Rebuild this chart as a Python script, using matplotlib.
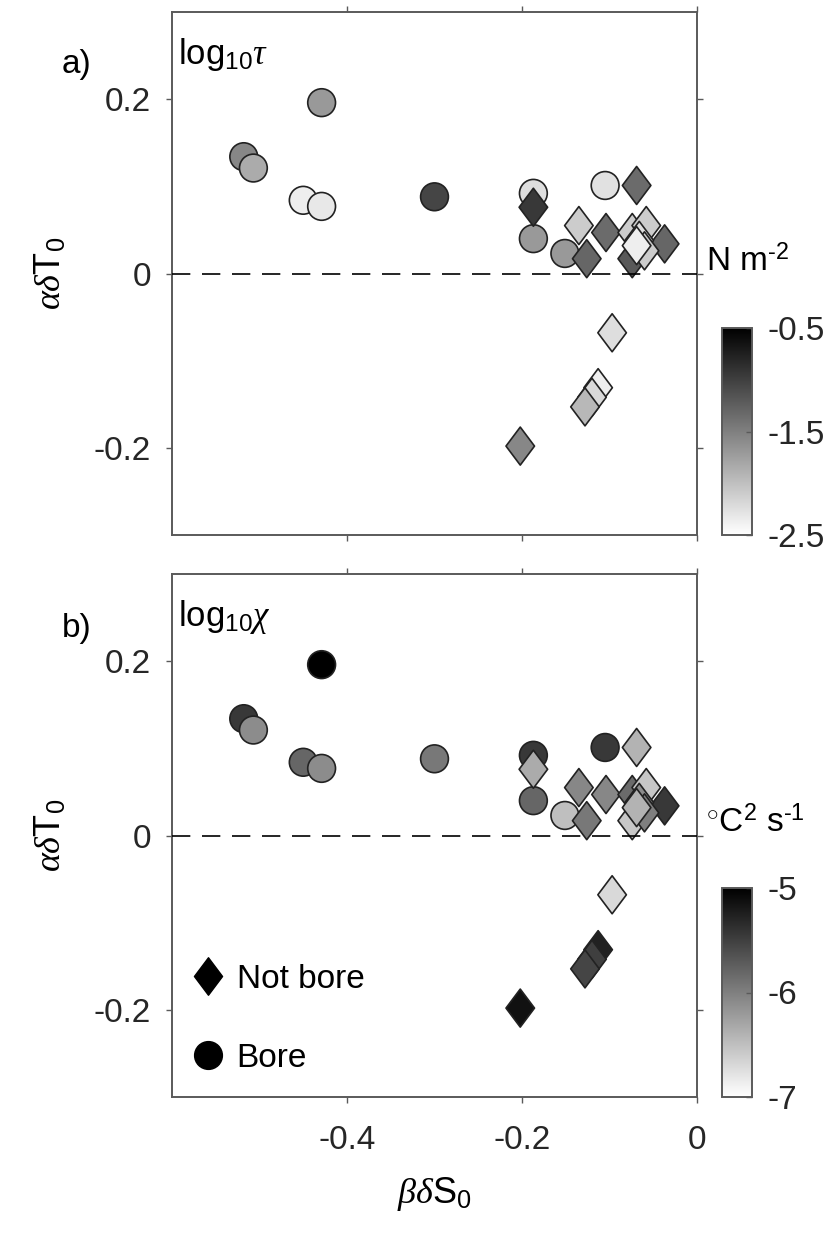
import matplotlib
matplotlib.use("Agg")
import matplotlib.pyplot as plt
from matplotlib.path import Path
from matplotlib.lines import Line2D

plt.rcParams["font.family"] = ["Liberation Sans", "DejaVu Sans"]
plt.rcParams["mathtext.fontset"] = "custom"
plt.rcParams["mathtext.rm"] = "Liberation Sans"
plt.rcParams["mathtext.it"] = "Liberation Serif:italic"
plt.rcParams["mathtext.bf"] = "Liberation Sans:bold"
plt.rcParams["axes.unicode_minus"] = False

# ---- data -----------------------------------------------------------------
# Bore events (circles)
bore_dS = [-0.429, -0.518, -0.507, -0.450, -0.429, -0.300, -0.187, -0.187, -0.105, -0.151]
bore_dT = [0.196, 0.134, 0.121, 0.084, 0.077, 0.088, 0.092, 0.040, 0.101, 0.023]
bore_log_tau = [-1.70, -1.56, -1.84, -2.36, -2.32, -1.04, -2.24, -1.70, -2.26, -1.70]
bore_log_chi = [-5.00, -5.44, -6.10, -5.80, -6.10, -5.94, -5.44, -5.80, -5.44, -6.50]

# Non-bore events (diamonds)
nobore_dS = [-0.187, -0.069, -0.135, -0.104, -0.126, -0.074, -0.058, -0.037, -0.074,
             -0.066, -0.060, -0.069, -0.097, -0.113, -0.120, -0.128, -0.202]
nobore_dT = [0.076, 0.101, 0.055, 0.047, 0.017, 0.047, 0.055, 0.034, 0.017,
             0.038, 0.026, 0.032, -0.068, -0.131, -0.142, -0.153, -0.198]
nobore_log_tau = [-0.94, -1.34, -2.10, -1.34, -1.30, -2.10, -2.10, -1.30, -1.20,
                  -2.24, -2.10, -2.36, -2.24, -2.36, -2.20, -1.94, -1.56]
nobore_log_chi = [-6.34, -6.40, -6.06, -6.06, -5.94, -5.84, -6.56, -5.44, -6.56,
                  -6.10, -6.00, -6.40, -6.70, -5.26, -5.50, -5.54, -5.14]

x_ticks = [-0.4, -0.2, 0.0]
x_ticklabels = ["-0.4", "-0.2", "0"]
y_ticks = [-0.2, 0.0, 0.2]
y_ticklabels = ["-0.2", "0", "0.2"]

tau_ticks = [-2.5, -1.5, -0.5]
tau_ticklabels = ["-2.5", "-1.5", "-0.5"]
chi_ticks = [-7, -6, -5]
chi_ticklabels = ["-7", "-6", "-5"]

# ---- style ----------------------------------------------------------------
FS = 24
SPINE = "#5a5a5a"
TICKC = "#262626"
EDGE = "#222222"

diamond = Path([(0, 1), (0.75, 0), (0, -1), (-0.75, 0), (0, 1)],
               [Path.MOVETO, Path.LINETO, Path.LINETO, Path.LINETO, Path.CLOSEPOLY])

W, H = 837, 1234
fig = plt.figure(figsize=(W / 100, H / 100), dpi=100)


def frac(left, top, width, height):
    return [left / W, 1 - (top + height) / H, width / W, height / H]


ax_a = fig.add_axes(frac(172, 12, 525, 523))
ax_b = fig.add_axes(frac(172, 574, 525, 523))
cax_a = fig.add_axes(frac(722, 328, 30, 207))
cax_b = fig.add_axes(frac(722, 888, 30, 209))


def draw_panel(ax, cax, c_bore, c_nobore, vmin, vmax, cticks, cticklabels):
    ax.axhline(0, color="k", lw=1.2, dashes=(11, 7), zorder=4)
    sc = ax.scatter(bore_dS, bore_dT, c=c_bore, cmap="gray_r", vmin=vmin, vmax=vmax,
                    s=400, marker="o", edgecolors=EDGE, linewidths=1.2, zorder=2)
    ax.scatter(nobore_dS, nobore_dT, c=c_nobore, cmap="gray_r", vmin=vmin, vmax=vmax,
               s=750, marker=diamond, edgecolors=EDGE, linewidths=1.2, zorder=3)
    ax.set_xlim(-0.6, 0)
    ax.set_ylim(-0.3, 0.3)
    ax.set_xticks(x_ticks)
    ax.set_yticks(y_ticks)
    ax.set_yticklabels(y_ticklabels)
    ax.tick_params(direction="out", length=4, width=1.0, color=SPINE, top=True, right=True,
                   labelsize=FS, labelcolor=TICKC)
    ax.tick_params(axis="y", pad=11)
    ax.tick_params(axis="x", pad=16)
    for sp in ax.spines.values():
        sp.set_color(SPINE)
        sp.set_linewidth(1.4)
    ax.set_ylabel(r"$\alpha\delta\mathrm{T}_0$", fontsize=26, labelpad=18)

    cb = fig.colorbar(sc, cax=cax)
    cb.set_ticks(cticks)
    cb.set_ticklabels(cticklabels)
    cb.ax.tick_params(direction="in", length=4, width=1.0, color=SPINE,
                      labelsize=FS, labelcolor=TICKC, pad=11)
    cb.outline.set_edgecolor(SPINE)
    cb.outline.set_linewidth(1.4)
    return sc


draw_panel(ax_a, cax_a, bore_log_tau, nobore_log_tau, -2.5, -0.5, tau_ticks, tau_ticklabels)
draw_panel(ax_b, cax_b, bore_log_chi, nobore_log_chi, -7, -5, chi_ticks, chi_ticklabels)

ax_a.set_xticklabels([])
ax_b.set_xticklabels(x_ticklabels)
ax_b.set_xlabel(r"$\beta\delta\mathrm{S}_0$", fontsize=26, labelpad=14)

# panel titles and variable names
fig.text(77 / W, 1 - 64 / H, "a)", fontsize=FS, ha="center", va="center")
fig.text(77 / W, 1 - 628 / H, "b)", fontsize=FS, ha="center", va="center")
ax_a.text(0.012, 0.955, r"log$_{10}\tau$", transform=ax_a.transAxes,
          fontsize=25, ha="left", va="top")
ax_b.text(0.012, 0.955, r"log$_{10}\chi$", transform=ax_b.transAxes,
          fontsize=25, ha="left", va="top")

# colorbar units
fig.text(706 / W, 1 - 262 / H, r"N m$^{\text{-2}}$", fontsize=FS, ha="left", va="center")
fig.text(706 / W, 1 - 823 / H, r"$^{\circ}$C$^{2}$ s$^{\text{-1}}$", fontsize=FS,
         ha="left", va="center")

# marker-type legend
handles = [
    Line2D([], [], ls="none", marker=diamond, markersize=27, color="k", markeredgecolor="k"),
    Line2D([], [], ls="none", marker="o", markersize=20, color="k", markeredgecolor="k"),
]
ax_b.legend(handles, ["Not bore", "Bore"], loc="lower left", bbox_to_anchor=(0, 0),
            frameon=False, fontsize=FS, borderaxespad=0, borderpad=0.69,
            handlelength=0.8, handletextpad=0.45, labelspacing=1.45)

fig.savefig("out.png", dpi=100)
